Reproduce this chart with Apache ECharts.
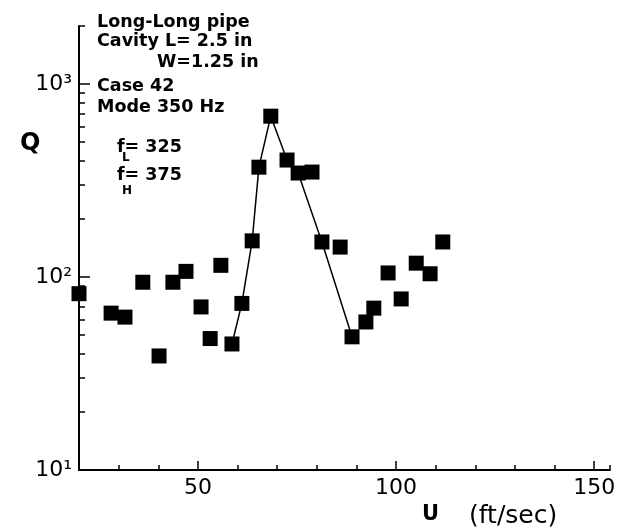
<!DOCTYPE html>
<html>
<head>
<meta charset="utf-8">
<script src="https://cdn.jsdelivr.net/npm/echarts@6/dist/echarts.min.js"></script>
<style>
html,body{margin:0;padding:0;background:#fff;}
#c{width:623px;height:532px;}
</style>
</head>
<body>
<div id="c"></div>
<script>
// Measured data: flow speed U (ft/sec) and quality factor Q
const U = [20, 28.1, 31.6, 36.1, 40.2, 43.7, 47.0, 50.8, 53.1, 55.8, 58.6, 61.1, 63.7, 65.4, 68.4, 72.5, 75.3, 78.8, 81.3, 85.9, 88.9, 92.4, 94.4, 98.0, 101.3, 105.1, 108.6, 111.8];
const Q = [82, 65, 62, 94, 39, 94, 107, 70, 48, 115, 45, 73, 154, 371, 682, 404, 346, 350, 152, 143, 49, 58.5, 69, 105, 77, 118, 104, 152];
// Resonance curve through the mode points
const lineU = [58.6, 61.1, 63.7, 65.4, 68.4, 72.5, 75.3, 81.3, 88.9];
const lineQ = [45, 73, 154, 371, 682, 404, 346, 152, 49];
// Axis ticks
const xMajorTicks = [50, 100, 150];
const yMajorTicks = [10, 100, 1000];
const yMajorLabels = ['10\u00B9', '10\u00B2', '10\u00B3'];
const yMinorTicks = [20, 30, 40, 50, 60, 70, 80, 90, 200, 300, 400, 500, 600, 700, 800, 900, 2000];
// Annotation lines
const notes = ['Long-Long pipe', 'Cavity L= 2.5 in', 'W=1.25 in', 'Case 42', 'Mode 350 Hz'];
const fLow = 'f= 325', fHigh = 'f= 375';

const chart = echarts.init(document.getElementById('c'), null, {renderer: 'canvas'});
const pts = U.map((u, i) => [u, Q[i]]);
const linePts = lineU.map((u, i) => [u, lineQ[i]]);
const FONT = '"DejaVu Sans", sans-serif';
const blk = '#000';

function txt(x, y, s, size, bold) {
  return {type: 'text', x: x, y: y, silent: true, z: 100,
    style: {text: s, fontSize: size, fontWeight: bold ? 'bold' : 'normal', fontFamily: FONT,
      fill: blk, align: 'left', verticalAlign: 'middle'}};
}

const option = {
  backgroundColor: '#fff',
  animation: false,
  grid: {left: 79, right: 13, top: 26, bottom: 62, containLabel: false},
  xAxis: [{
    type: 'value', min: 20, max: 154, interval: 10,
    axisLine: {show: true, lineStyle: {color: blk, width: 2}},
    axisTick: {show: true, inside: true, length: 5, lineStyle: {color: blk, width: 1.5}},
    axisLabel: {customValues: xMajorTicks, color: blk, fontSize: 22, fontFamily: FONT, margin: 7},
    splitLine: {show: false}
  }, {
    type: 'value', min: 20, max: 154, position: 'bottom',
    axisLine: {show: false},
    axisTick: {show: true, inside: true, length: 9, customValues: xMajorTicks, lineStyle: {color: blk, width: 1.5}},
    axisLabel: {show: false},
    splitLine: {show: false}
  }],
  yAxis: [{
    type: 'log', logBase: 10, min: 10, max: 2000,
    axisLine: {show: true, lineStyle: {color: blk, width: 2}},
    axisTick: {show: true, inside: true, length: 6, customValues: yMinorTicks, lineStyle: {color: blk, width: 1.5}},
    axisLabel: {customValues: yMajorTicks, color: blk, fontSize: 22, fontFamily: FONT, margin: 7,
      formatter: function (v) { const i = yMajorTicks.indexOf(Math.round(v)); return i >= 0 ? yMajorLabels[i] : ''; }},
    splitLine: {show: false}, minorTick: {show: false}
  }, {
    type: 'log', logBase: 10, min: 10, max: 2000, position: 'left',
    axisLine: {show: false},
    axisTick: {show: true, inside: true, length: 11, customValues: yMajorTicks, lineStyle: {color: blk, width: 1.5}},
    axisLabel: {show: false},
    splitLine: {show: false}
  }],
  series: [{
    type: 'line', data: linePts, xAxisIndex: 0, yAxisIndex: 0,
    symbol: 'none', lineStyle: {color: blk, width: 1.5}, z: 2, clip: false
  }, {
    type: 'scatter', data: pts, xAxisIndex: 0, yAxisIndex: 0,
    symbol: 'rect', symbolSize: 15, itemStyle: {color: blk, opacity: 1}, z: 3, clip: false
  }],
  graphic: [
    txt(97, 22, notes[0], 17.5, true),
    txt(97, 41, notes[1], 17.5, true),
    txt(157, 62, notes[2], 17.5, true),
    txt(97, 86, notes[3], 17.5, true),
    txt(97, 107, notes[4], 17.5, true),
    txt(117, 147, fLow, 17.5, true),
    txt(122, 158, 'L', 12, true),
    txt(117, 175, fHigh, 17.5, true),
    txt(122, 191, 'H', 12, true),
    txt(20, 144, 'Q', 24, true),
    txt(422, 515, 'U', 21, true),
    txt(469, 516, '(ft/sec)', 25, false)
  ]
};
chart.setOption(option);
</script>
</body>
</html>
